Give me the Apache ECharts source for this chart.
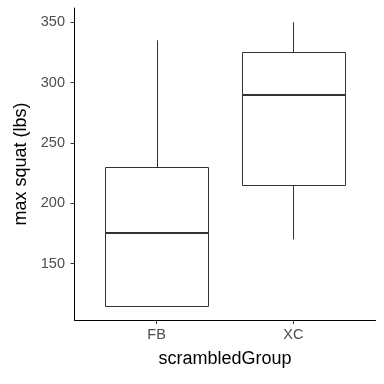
<!DOCTYPE html>
<html><head><meta charset="utf-8">
<script src="https://cdn.jsdelivr.net/npm/echarts@6/dist/echarts.min.js"></script>
<style>html,body{margin:0;padding:0;background:#fff}#c{width:384px;height:384px}</style>
</head><body><div id="c"></div>
<script>
const categories = ['FB', 'XC'];
const whiskerLow = [115, 170];
const q1 = [115, 215];
const medians = [175, 290];
const q3 = [230, 325];
const whiskerHigh = [335, 350];
const yTicks = [150, 200, 250, 300, 350];

const data = categories.map((c, i) => [i + 1, whiskerLow[i], q1[i], medians[i], q3[i], whiskerHigh[i]]);
const chart = echarts.init(document.getElementById('c'), null, {renderer: 'canvas'});
const FONT = 'Liberation Sans, Arial, Helvetica, sans-serif';
chart.setOption({
  animation: false,
  backgroundColor: '#fff',
  grid: {left: 74.5, right: 8.5, top: 8, bottom: 64, containLabel: false},
  xAxis: {
    type: 'value', min: 0.4, max: 2.6,
    name: 'scrambledGroup', nameLocation: 'middle', nameGap: 30,
    nameTextStyle: {fontFamily: FONT, fontSize: 18, color: '#000'},
    axisLine: {onZero: false, lineStyle: {color: '#000', width: 1}},
    axisTick: {show: true, length: 4, customValues: [1, 2], lineStyle: {color: '#333'}},
    axisLabel: {customValues: [1, 2], formatter: v => categories[Math.round(v) - 1] || '',
      fontFamily: FONT, fontSize: 14.5, color: '#4d4d4d', margin: 7},
    splitLine: {show: false}
  },
  yAxis: {
    type: 'value', min: 103.25, max: 361.75,
    name: 'max squat (lbs)', nameLocation: 'middle', nameGap: 40, nameRotate: 90,
    nameTextStyle: {fontFamily: FONT, fontSize: 18, color: '#000'},
    axisLine: {show: true, onZero: false, lineStyle: {color: '#000', width: 1}},
    axisTick: {show: true, length: 4, customValues: yTicks, lineStyle: {color: '#333'}},
    axisLabel: {customValues: yTicks, fontFamily: FONT, fontSize: 14.5, color: '#4d4d4d', margin: 9.5},
    splitLine: {show: false}
  },
  series: [{
    type: 'custom',
    data: data,
    encode: {x: 0, y: [1, 2, 3, 4, 5]},
    renderItem: function (params, api) {
      const x = api.value(0);
      const hw = 0.375;
      const pL = api.coord([x - hw, api.value(2)]);
      const pR = api.coord([x + hw, api.value(4)]);
      const c = api.coord([x, api.value(1)]);
      const lo = c[1];
      const hi = api.coord([x, api.value(5)])[1];
      const y1 = pL[1], y3 = pR[1];
      const ym = api.coord([x, api.value(3)])[1];
      const cx = Math.round(c[0]) + 0.5;
      const xl = Math.round(pL[0]) + 0.5, xr = Math.round(pR[0]) + 0.5;
      const st = {stroke: '#333333', lineWidth: 1, fill: null};
      return {
        type: 'group',
        children: [
          {type: 'line', shape: {x1: cx, y1: y3, x2: cx, y2: hi}, style: st},
          {type: 'line', shape: {x1: cx, y1: lo, x2: cx, y2: y1}, style: st},
          {type: 'rect', shape: {x: xl, y: Math.round(y3) + 0.5, width: xr - xl, height: Math.round(y1) - Math.round(y3)},
            style: {stroke: '#333333', lineWidth: 1, fill: '#fff'}},
          {type: 'line', shape: {x1: xl, y1: Math.round(ym), x2: xr, y2: Math.round(ym)},
            style: {stroke: '#333333', lineWidth: 2}}
        ]
      };
    }
  }]
});
</script></body></html>
